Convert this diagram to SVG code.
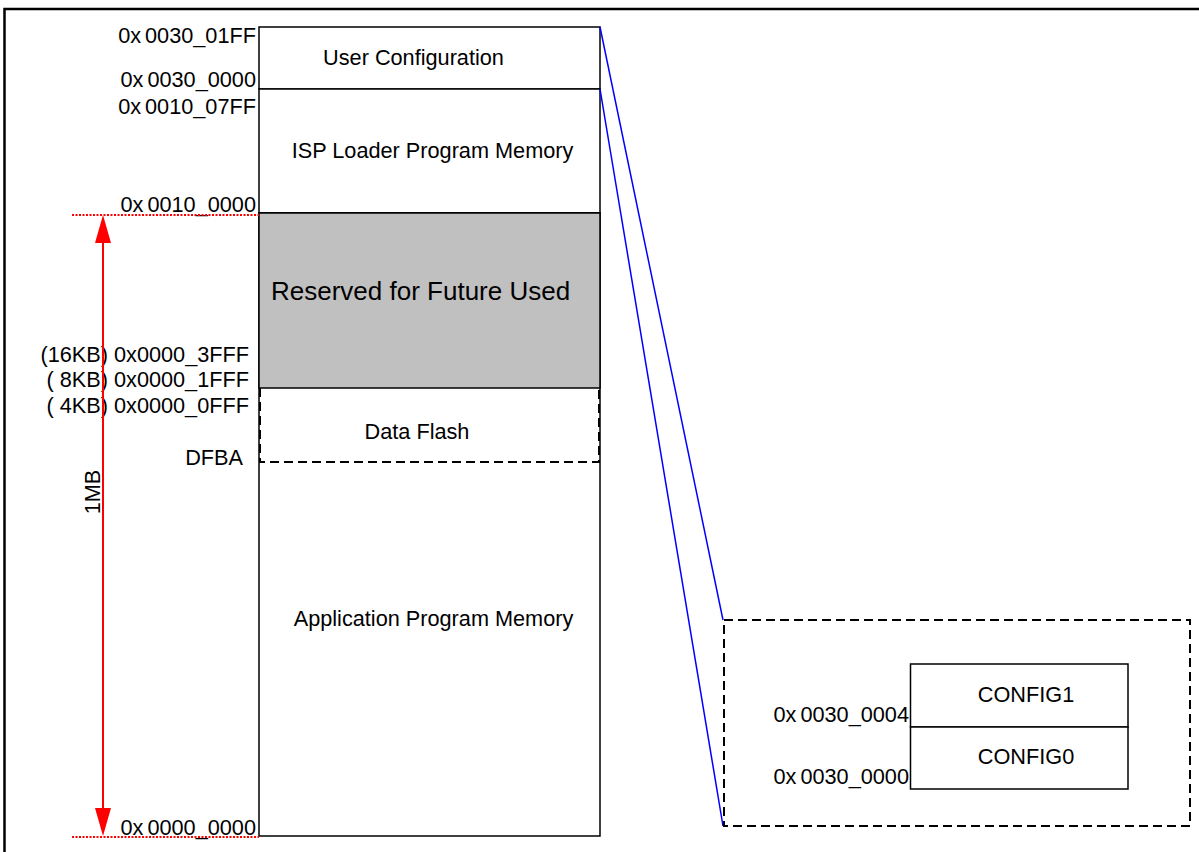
<svg xmlns="http://www.w3.org/2000/svg" width="1199" height="852" viewBox="0 0 1199 852">
  <style>
    text { font-family: "Liberation Sans", Arial, sans-serif; fill: #000; }
    .lbl { font-size: 21.7px; text-anchor: end; }
    .mid { font-size: 21.7px; text-anchor: middle; }
    .box { fill: #fff; stroke: #000; stroke-width: 1.5; }
    .dash { fill: none; stroke: #000; stroke-width: 2; stroke-dasharray: 9 5; }
    .blue { stroke: #0000ff; stroke-width: 1.5; fill: none; }
    .reddot { stroke: #ff0000; stroke-width: 2; stroke-dasharray: 2 1.5; }
  </style>
  <rect width="1199" height="852" fill="#fff"/>
  <!-- outer frame -->
  <rect x="4.5" y="9" width="1200" height="860" fill="none" stroke="#000" stroke-width="2.5"/>

  <!-- memory map column -->
  <g id="user-config">
    <rect class="box" x="259" y="27" width="341" height="62"/>
    <text class="mid" x="413.5" y="65">User Configuration</text>
  </g>
  <g id="isp-loader">
    <rect class="box" x="259" y="89" width="341" height="124"/>
    <text class="mid" x="432.5" y="158">ISP Loader Program Memory</text>
  </g>
  <g id="app-memory">
    <rect class="box" x="259" y="213" width="341" height="623"/>
    <text class="mid" x="433.5" y="626">Application Program Memory</text>
  </g>
  <g id="reserved">
    <rect x="259" y="213" width="341" height="175" fill="#c0c0c0" stroke="#000" stroke-width="1.5"/>
    <text x="271" y="300" font-size="26">Reserved for Future Used</text>
  </g>
  <g id="data-flash">
    <rect x="260" y="389" width="339" height="73" fill="#fff"/>
    <path class="dash" d="M260 388 V462 H599 V388"/>
    <text class="mid" x="417" y="439">Data Flash</text>
  </g>

  <!-- address labels -->
  <g id="addr-labels">
    <text class="lbl" x="256" y="43">0x<tspan dx="4">0030_01FF</tspan></text>
    <text class="lbl" x="256" y="87">0x<tspan dx="4">0030_0000</tspan></text>
    <text class="lbl" x="256" y="114">0x<tspan dx="4">0010_07FF</tspan></text>
    <text class="lbl" x="256" y="212">0x<tspan dx="4">0010_0000</tspan></text>
    <text class="lbl" x="249" y="362">(16KB) 0x0000_3FFF</text>
    <text class="lbl" x="249" y="387">( 8KB) 0x0000_1FFF</text>
    <text class="lbl" x="249" y="413">( 4KB) 0x0000_0FFF</text>
    <text class="lbl" x="243" y="465">DFBA</text>
    <text class="lbl" x="256" y="835">0x<tspan dx="4">0000_0000</tspan></text>
  </g>

  <!-- 1MB size span -->
  <g id="size-span">
    <line class="reddot" x1="72" y1="215" x2="259" y2="215"/>
    <line class="reddot" x1="72" y1="837" x2="259" y2="837"/>
    <line x1="103" y1="240" x2="103" y2="810" stroke="#ff0000" stroke-width="2"/>
    <path d="M103 215 L111 243 L95 243 Z" fill="#ff0000"/>
    <path d="M103 836 L111 808 L95 808 Z" fill="#ff0000"/>
    <text x="0" y="0" font-size="21.7" text-anchor="middle" transform="translate(100 492) rotate(-90)">1MB</text>
  </g>

  <!-- zoom connectors -->
  <g id="connectors">
    <line class="blue" x1="600" y1="27" x2="723" y2="620"/>
    <line class="blue" x1="600" y1="89" x2="723" y2="826"/>
  </g>

  <!-- user configuration detail -->
  <g id="config-detail">
    <rect class="dash" x="724" y="620" width="466" height="206"/>
  </g>
  <g id="config1">
    <rect class="box" x="910.5" y="664" width="217.5" height="63"/>
    <text class="mid" x="1026" y="702">CONFIG1</text>
  </g>
  <g id="config0">
    <rect class="box" x="910.5" y="727" width="217.5" height="62"/>
    <text class="mid" x="1026" y="764">CONFIG0</text>
  </g>
  <g id="config-addr">
    <text class="lbl" x="909" y="722">0x<tspan dx="4">0030_0004</tspan></text>
    <text class="lbl" x="909" y="784">0x<tspan dx="4">0030_0000</tspan></text>
  </g>
</svg>
